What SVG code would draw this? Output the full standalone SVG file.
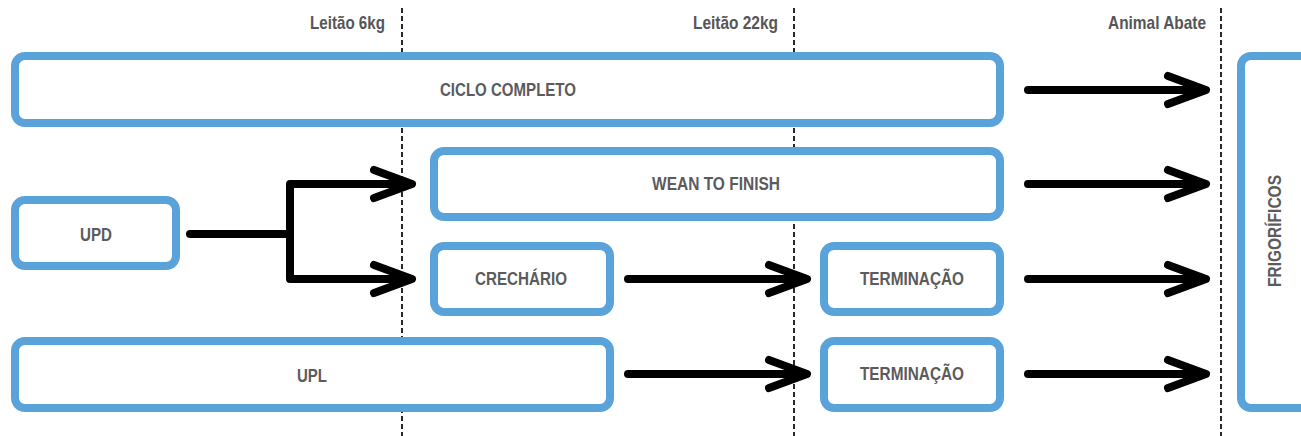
<svg xmlns="http://www.w3.org/2000/svg" width="1301" height="436" viewBox="0 0 1301 436">
  <defs>
    <style>
      .box { fill: #ffffff; stroke: #5aa3da; stroke-width: 8; }
      .lbl { font-family: "Liberation Sans", Arial, sans-serif; font-weight: bold; fill: #5b5b5d; }
      .hdr { font-size: 19px; fill: #565658; }
      .txt { font-size: 18px; text-anchor: middle; dominant-baseline: central; }
      .guide { stroke: #111111; stroke-width: 1.8; stroke-dasharray: 5 3; fill: none; }
      .flow { stroke: #000000; stroke-width: 8; stroke-linecap: round; stroke-linejoin: round; fill: none; }
    </style>
  </defs>

  <!-- stage guides -->
  <g id="guides">
    <line class="guide" x1="402" y1="8" x2="402" y2="436"/>
    <line class="guide" x1="794" y1="8" x2="794" y2="436"/>
    <line class="guide" x1="1221" y1="8" x2="1221" y2="436"/>
    <text class="lbl hdr" x="385" y="29" text-anchor="end" textLength="75" lengthAdjust="spacingAndGlyphs">Leitão 6kg</text>
    <text class="lbl hdr" x="778" y="29" text-anchor="end" textLength="85" lengthAdjust="spacingAndGlyphs">Leitão 22kg</text>
    <text class="lbl hdr" x="1206" y="29" text-anchor="end" textLength="98" lengthAdjust="spacingAndGlyphs">Animal Abate</text>
  </g>

  <!-- connectors -->
  <g id="connectors">
    <path class="flow" d="M1028 90 H1204 M1168 76 L1206 90 L1168 104"/>
    <path class="flow" d="M1028 184 H1204 M1168 170 L1206 184 L1168 198"/>
    <path class="flow" d="M1028 279 H1204 M1168 265 L1206 279 L1168 293"/>
    <path class="flow" d="M1028 374 H1204 M1168 360 L1206 374 L1168 388"/>
    <path class="flow" d="M190 234 H290 M290 184 V279 M290 184 H410 M290 279 H410 M374 170 L412 184 L374 198 M374 265 L412 279 L374 293"/>
    <path class="flow" d="M628 279 H805 M769 265 L807 279 L769 293"/>
    <path class="flow" d="M628 374 H805 M769 360 L807 374 L769 388"/>
  </g>

  <g id="ciclo-completo">
    <rect class="box" x="15" y="56" width="985" height="67" rx="10"/>
    <text class="lbl txt" x="508" y="90" textLength="136" lengthAdjust="spacingAndGlyphs">CICLO COMPLETO</text>
  </g>
  <g id="wean-to-finish">
    <rect class="box" x="434" y="151" width="566" height="66" rx="10"/>
    <text class="lbl txt" x="716" y="184" textLength="128" lengthAdjust="spacingAndGlyphs">WEAN TO FINISH</text>
  </g>
  <g id="upd">
    <rect class="box" x="15" y="200" width="161" height="66" rx="10"/>
    <text class="lbl txt" x="96" y="235" textLength="32" lengthAdjust="spacingAndGlyphs">UPD</text>
  </g>
  <g id="crechario">
    <rect class="box" x="434" y="246" width="176" height="66" rx="10"/>
    <text class="lbl txt" x="521" y="279" textLength="92" lengthAdjust="spacingAndGlyphs">CRECHÁRIO</text>
  </g>
  <g id="terminacao-1">
    <rect class="box" x="824" y="246" width="176" height="66" rx="10"/>
    <text class="lbl txt" x="912" y="279" textLength="104" lengthAdjust="spacingAndGlyphs">TERMINAÇÃO</text>
  </g>
  <g id="upl">
    <rect class="box" x="15" y="341" width="595" height="67" rx="10"/>
    <text class="lbl txt" x="312" y="376" textLength="30" lengthAdjust="spacingAndGlyphs">UPL</text>
  </g>
  <g id="terminacao-2">
    <rect class="box" x="824" y="341" width="176" height="67" rx="10"/>
    <text class="lbl txt" x="912" y="374" textLength="104" lengthAdjust="spacingAndGlyphs">TERMINAÇÃO</text>
  </g>
  <g id="frigorificos">
    <rect class="box" x="1241" y="56" width="90" height="352" rx="10"/>
    <text class="lbl txt" x="1275" y="231" transform="rotate(-90 1275 231)" textLength="112" lengthAdjust="spacingAndGlyphs">FRIGORÍFICOS</text>
  </g>
</svg>
